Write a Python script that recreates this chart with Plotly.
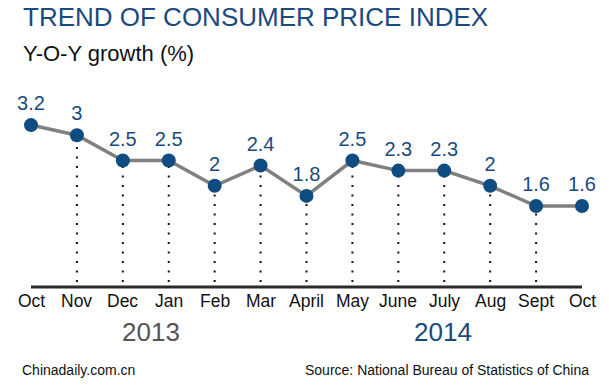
import plotly.graph_objects as go

months = ["Oct", "Nov", "Dec", "Jan", "Feb", "Mar", "April", "May", "June", "July", "Aug", "Sept", "Oct"]
cpi = [3.2, 3, 2.5, 2.5, 2, 2.4, 1.8, 2.5, 2.3, 2.3, 2, 1.6, 1.6]
labels = ["3.2", "3", "2.5", "2.5", "2", "2.4", "1.8", "2.5", "2.3", "2.3", "2", "1.6", "1.6"]
years = ["2013", "2014"]

FONT = "Liberation Sans, Arial, sans-serif"
BLUE = "#0f4c81"
TITLE_BLUE = "#1b4a7e"

x = list(range(len(months)))
fig = go.Figure()

# dotted drop lines (skip first and last)
for i in x[1:-1]:
    fig.add_trace(go.Scatter(x=[i, i], y=[0.1, cpi[i]], mode="lines",
                             line=dict(color="#111", width=2, dash="2px,7.5px"),
                             hoverinfo="skip", showlegend=False))

fig.add_trace(go.Scatter(x=x, y=cpi, mode="lines+markers+text",
                         line=dict(color="#808080", width=3.5),
                         marker=dict(color=BLUE, size=14),
                         text=labels, textposition="top center",
                         textfont=dict(family=FONT, size=20, color=TITLE_BLUE),
                         showlegend=False, cliponaxis=False))

# baseline
fig.add_shape(type="line", x0=0, x1=12, y0=0, y1=0, xref="x", yref="y",
              line=dict(color="#2a2a2a", width=3), layer="below")

for i, m in enumerate(months):
    fig.add_annotation(x=i, y=0, xref="x", yref="y", text=m, showarrow=False,
                       yshift=-14, font=dict(family=FONT, size=17.5, color="#111"))

fig.add_annotation(x=2.62, y=0, xref="x", yref="y", text=years[0], showarrow=False,
                   yshift=-45, font=dict(family=FONT, size=26, color="#555555"))
fig.add_annotation(x=8.97, y=0, xref="x", yref="y", text=years[1], showarrow=False,
                   yshift=-45, font=dict(family=FONT, size=26, color=TITLE_BLUE))

fig.add_annotation(x=21 / 609, y=1 - 17 / 389, xref="paper", yref="paper",
                   text="TREND OF CONSUMER PRICE INDEX", showarrow=False,
                   xanchor="left", yanchor="middle",
                   font=dict(family=FONT, size=26, color=TITLE_BLUE))
fig.add_annotation(x=21 / 609, y=1 - 53 / 389, xref="paper", yref="paper",
                   text="Y-O-Y growth (%)", showarrow=False,
                   xanchor="left", yanchor="middle",
                   font=dict(family=FONT, size=22, color="#111"))
fig.add_annotation(x=20 / 609, y=1 - 370 / 389, xref="paper", yref="paper",
                   text="Chinadaily.com.cn", showarrow=False,
                   xanchor="left", yanchor="middle",
                   font=dict(family=FONT, size=14, color="#111"))
fig.add_annotation(x=591 / 609, y=1 - 370 / 389, xref="paper", yref="paper",
                   text="Source: National Bureau of Statistics of China", showarrow=False,
                   xanchor="right", yanchor="middle",
                   font=dict(family=FONT, size=14, color="#111"))

fig.update_layout(
    width=609, height=389,
    margin=dict(l=0, r=0, t=0, b=0),
    paper_bgcolor="white", plot_bgcolor="white",
    xaxis=dict(range=[-31 / 45.92, 12 + 27 / 45.92], visible=False, fixedrange=True),
    yaxis=dict(range=[-102 / 50.6, 287 / 50.6], visible=False, fixedrange=True),
)

fig.write_html("out.html", config={"displayModeBar": False},
               post_script="document.body.style.margin='0';document.body.style.padding='0';")
